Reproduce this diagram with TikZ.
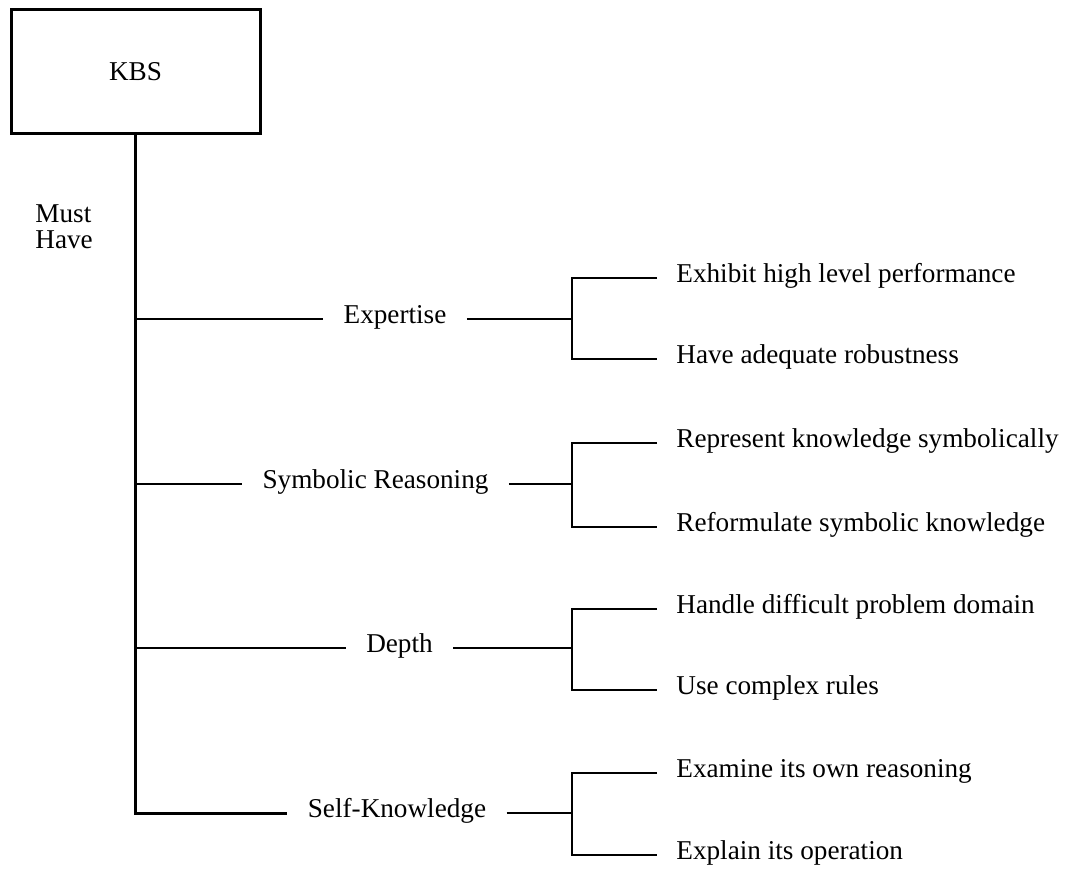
\documentclass[tikz,border=0pt]{standalone}
\usepackage{fontspec}
\setmainfont{Liberation Serif}
\begin{document}
\begin{tikzpicture}[x=0.5pt,y=-0.5pt,
  lbl/.style={font=\fontsize{13.6}{13}\selectfont, text height=0.7em, text depth=0.25em, inner ysep=0pt},
  midlbl/.style={lbl, inner xsep=10pt},
  leaf/.style={lbl, anchor=west, inner xsep=9.5pt},
  wire/.style={line width=1.2pt},
  topbox/.style={draw, line width=1.5pt, minimum width=124.5pt, minimum height=62pt, inner sep=0pt,
                 font=\fontsize{13.6}{13}\selectfont}]

\useasboundingbox (0,0) rectangle (1070,868);

% root
\node[topbox] (kbs) at (135.5,71.5) {KBS};
\node[font=\fontsize{13.6}{13}\selectfont, anchor=base west, align=left, inner sep=0pt] (must) at (35,248) {Must\\Have};

% requirements
\node[midlbl] (m1) at (395,319) {Expertise};
\node[midlbl] (m2) at (375.5,484) {Symbolic Reasoning};
\node[midlbl] (m3) at (399.5,648) {Depth};
\node[midlbl] (m4) at (397,813) {Self-Knowledge};

% bracket junctions
\coordinate (j1) at (572,319);
\coordinate (j2) at (572,484);
\coordinate (j3) at (572,648);
\coordinate (j4) at (572,813);

% consequences
\node[leaf] (a1) at (657,278) {Exhibit high level performance};
\node[leaf] (b1) at (657,359) {Have adequate robustness};
\node[leaf] (a2) at (657,443) {Represent knowledge symbolically};
\node[leaf] (b2) at (657,527) {Reformulate symbolic knowledge};
\node[leaf] (a3) at (657,609) {Handle difficult problem domain};
\node[leaf] (b3) at (657,690) {Use complex rules};
\node[leaf] (a4) at (657,773) {Examine its own reasoning};
\node[leaf] (b4) at (657,855) {Explain its operation};

% trunk and branches
\draw[wire, line width=1.5pt] (kbs.south) |- (m4.west);
\draw[wire] (kbs.south |- m1.west) -- (m1.west);
\draw[wire] (kbs.south |- m2.west) -- (m2.west);
\draw[wire] (kbs.south |- m3.west) -- (m3.west);

% brackets
\foreach \i in {1,2,3,4}{
  \draw[wire] (m\i.east) -- (j\i);
  \draw[wire] (a\i.west) -| (j\i) |- (b\i.west);
}
\end{tikzpicture}
\end{document}
